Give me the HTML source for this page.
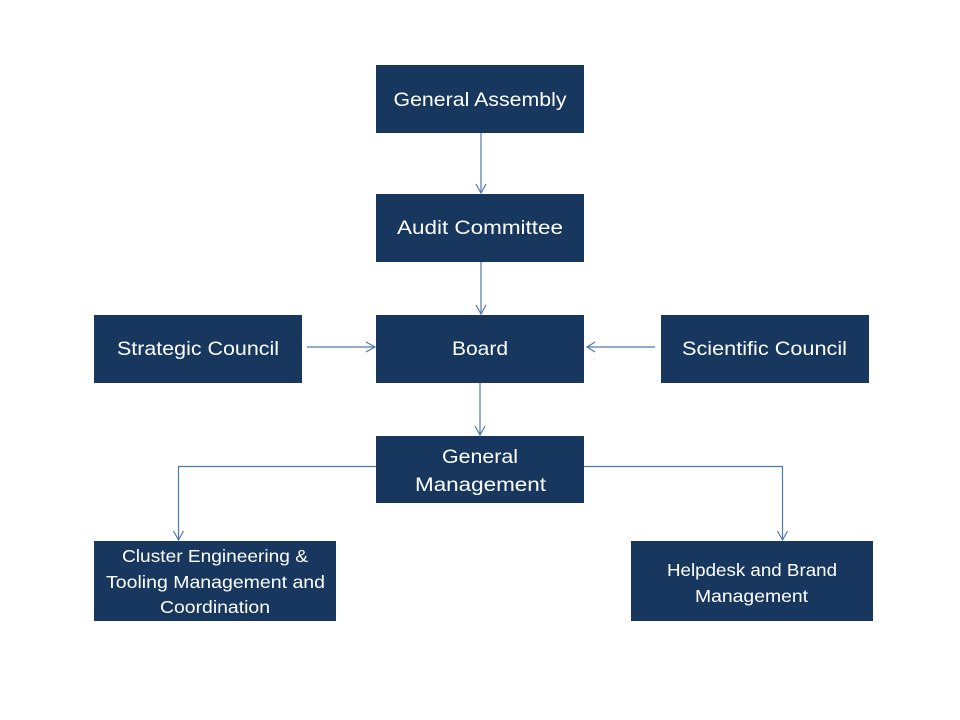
<!DOCTYPE html>
<html><head><meta charset="utf-8"><style>
html,body{margin:0;padding:0;background:#fff;}
svg{display:block;}
text{font-family:"Liberation Sans",Arial,sans-serif;fill:#fff;}
</style></head><body>
<svg width="960" height="720" viewBox="0 0 960 720" xmlns="http://www.w3.org/2000/svg">
<rect width="960" height="720" fill="#fff"/>
<g fill="#17375e">
<rect x="376" y="65" width="208" height="68"/>
<rect x="376" y="194" width="208" height="68"/>
<rect x="376" y="315" width="208" height="68"/>
<rect x="94" y="315" width="208" height="68"/>
<rect x="661" y="315" width="208" height="68"/>
<rect x="376" y="436" width="208" height="67"/>
<rect x="94" y="541" width="242" height="80"/>
<rect x="631" y="541" width="242" height="80"/>
</g>
<g stroke="#5079a8" stroke-width="1.2" fill="none">
<line x1="481" y1="133" x2="481" y2="193"/>
<polyline points="476,184 481,193 486,184"/>
<line x1="481" y1="262" x2="481" y2="314"/>
<polyline points="476,305 481,314 486,305"/>
<line x1="307" y1="347" x2="374" y2="347"/>
<polyline points="366,342 375,347 366,352"/>
<line x1="655" y1="347" x2="587" y2="347"/>
<polyline points="595,342 587,347 595,352"/>
<line x1="480" y1="383" x2="480" y2="435"/>
<polyline points="475,426 480,435 485,426"/>
<polyline points="376,466.5 178.5,466.5 178.5,540"/>
<polyline points="173.5,531 178.5,540 183.5,531"/>
<polyline points="584,466.5 782.5,466.5 782.5,540"/>
<polyline points="777.5,531 782.5,540 787.5,531"/>
</g>
<g font-size="19.5" text-anchor="middle">
<text x="480" y="106" textLength="173" lengthAdjust="spacingAndGlyphs">General Assembly</text>
<text x="480" y="234" textLength="166" lengthAdjust="spacingAndGlyphs">Audit Committee</text>
<text x="480" y="355" textLength="56" lengthAdjust="spacingAndGlyphs">Board</text>
<text x="198" y="355" textLength="162" lengthAdjust="spacingAndGlyphs">Strategic Council</text>
<text x="764.5" y="355" textLength="165" lengthAdjust="spacingAndGlyphs">Scientific Council</text>
<text x="480" y="463" textLength="76" lengthAdjust="spacingAndGlyphs">General</text>
<text x="480.5" y="491" textLength="131" lengthAdjust="spacingAndGlyphs">Management</text>
</g>
<g font-size="17.5" text-anchor="middle">
<text x="215" y="562" textLength="186" lengthAdjust="spacingAndGlyphs">Cluster Engineering &amp;</text>
<text x="215.5" y="588" textLength="219" lengthAdjust="spacingAndGlyphs">Tooling Management and</text>
<text x="215" y="613" textLength="110" lengthAdjust="spacingAndGlyphs">Coordination</text>
<text x="752" y="576" textLength="170" lengthAdjust="spacingAndGlyphs">Helpdesk and Brand</text>
<text x="751.5" y="602" textLength="113" lengthAdjust="spacingAndGlyphs">Management</text>
</g>
</svg>
</body></html>
